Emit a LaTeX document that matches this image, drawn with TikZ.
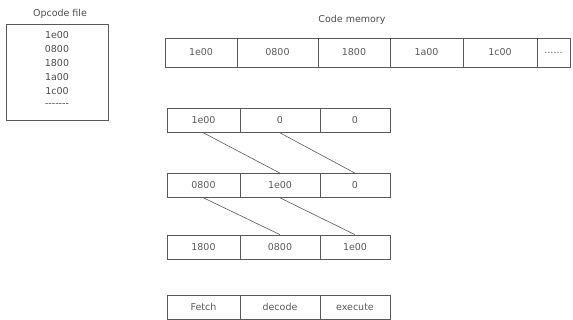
\documentclass[tikz,border=0pt]{standalone}
\usepackage{fontspec}
\setmainfont{DejaVu Sans}
\newcommand\memdots{......}
\newcommand\opdash{-{}-{}-{}-{}-{}-{}-}
\begin{document}
\begin{tikzpicture}[
    x=1pt, y=-1pt,
    cell/.style={draw=black!65, line width=0.7pt, minimum height=24pt, inner sep=0pt, font=\fontsize{9.5}{11}\selectfont, text=black!65},
    lbl/.style={font=\fontsize{9.5}{11}\selectfont, text=black!70},
    link/.style={draw=black!65, line width=0.6pt},
  ]
  \useasboundingbox (0,0) rectangle (573,320);
  \node[lbl] (optitle) at (60,14) {Opcode file};
  \node[draw=black!65, line width=0.7pt, minimum width=102pt, minimum height=96pt, inner sep=0pt, anchor=north west] (opbox) at (6,24) {};
  \foreach \t [count=\i] in {1e00,0800,1800,1a00,1c00,\opdash} {
    \node[lbl] (op\i) at (57, 21+14*\i) {\t};
  }
  \node[lbl] (memtitle) at (352,20) {Code memory};
  \foreach \x/\w/\t [count=\i] in {201/72/1e00, 277.5/81/0800, 354/72/1800, 426.5/73/1a00, 500/74/1c00, 553.5/33/\memdots} {
    \node[cell, minimum width=\w pt, minimum height=29pt] (mem\i) at (\x,52.5) {\t};
  }
  \foreach \y/\a/\b/\c [count=\r] in {120.5/1e00/0/0, 185.5/0800/1e00/0, 247/1800/0800/1e00, 307/Fetch/decode/execute} {
    \node[cell, minimum width=73pt] (p\r-1) at (203.5,\y) {\a};
    \node[cell, minimum width=80pt] (p\r-2) at (280,\y) {\b};
    \node[cell, minimum width=70pt] (p\r-3) at (355,\y) {\c};
  }
  \foreach \r [evaluate=\r as \n using int(\r+1)] in {1,2} {
    \draw[link] (p\r-1.south) -- (p\n-2.north);
    \draw[link] (p\r-2.south) -- (p\n-3.north);
  }
\end{tikzpicture}
\end{document}
